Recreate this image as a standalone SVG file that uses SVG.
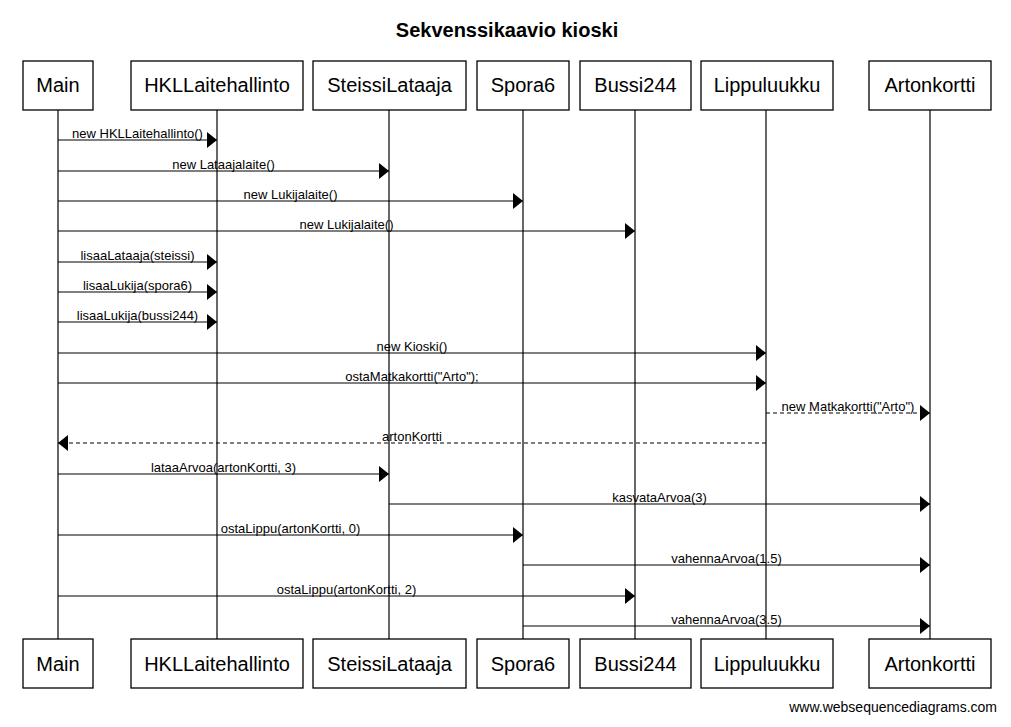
<svg xmlns="http://www.w3.org/2000/svg" width="1011" height="727" viewBox="0 0 1011 727">
<style>
.box{fill:#fff;stroke:#000;stroke-width:1.3}
.life{stroke:#000;stroke-width:1.2}
.name{font-family:"Liberation Sans",Arial,sans-serif;font-size:20px;text-anchor:middle;fill:#000}
.msg{stroke:#000;stroke-width:1.2;fill:none}
.dash{stroke-dasharray:4,3}
.lbl{font-family:"Liberation Sans",Arial,sans-serif;font-size:13px;text-anchor:middle;fill:#000}
.title{font-family:"Liberation Sans",Arial,sans-serif;font-size:20px;font-weight:bold;text-anchor:middle}
.foot{font-family:"Liberation Sans",Arial,sans-serif;font-size:14px;text-anchor:end}
</style>
<defs>
<marker id="ah" markerUnits="userSpaceOnUse" markerWidth="11" markerHeight="17" refX="10" refY="8" orient="auto" viewBox="0 0 11 17">
<path d="M0,0 L10,8 L0,16 Z" fill="#000"/>
</marker>
</defs>
<rect width="1011" height="727" fill="#fff"/>
<text class="title" x="507" y="37">Sekvenssikaavio kioski</text>
<g id="lifelines">
<line class="life" x1="58" y1="110" x2="58" y2="639"/>
<line class="life" x1="217" y1="110" x2="217" y2="639"/>
<line class="life" x1="389" y1="110" x2="389" y2="639"/>
<line class="life" x1="523" y1="110" x2="523" y2="639"/>
<line class="life" x1="635" y1="110" x2="635" y2="639"/>
<line class="life" x1="766" y1="110" x2="766" y2="639"/>
<line class="life" x1="930" y1="110" x2="930" y2="639"/>
</g>
<g id="main"><rect class="box" x="23" y="61" width="70" height="49"/><text class="name" x="58" y="92">Main</text><rect class="box" x="23" y="639" width="70" height="49"/><text class="name" x="58" y="671">Main</text></g>
<g id="hkl"><rect class="box" x="131" y="61" width="172" height="49"/><text class="name" x="217" y="92">HKLLaitehallinto</text><rect class="box" x="131" y="639" width="172" height="49"/><text class="name" x="217" y="671">HKLLaitehallinto</text></g>
<g id="steissi"><rect class="box" x="313" y="61" width="153" height="49"/><text class="name" x="389.5" y="92">SteissiLataaja</text><rect class="box" x="313" y="639" width="153" height="49"/><text class="name" x="389.5" y="671">SteissiLataaja</text></g>
<g id="spora6"><rect class="box" x="477" y="61" width="92" height="49"/><text class="name" x="523" y="92">Spora6</text><rect class="box" x="477" y="639" width="92" height="49"/><text class="name" x="523" y="671">Spora6</text></g>
<g id="bussi244"><rect class="box" x="580" y="61" width="111" height="49"/><text class="name" x="635.5" y="92">Bussi244</text><rect class="box" x="580" y="639" width="111" height="49"/><text class="name" x="635.5" y="671">Bussi244</text></g>
<g id="lippuluukku"><rect class="box" x="701" y="61" width="132" height="49"/><text class="name" x="767" y="92">Lippuluukku</text><rect class="box" x="701" y="639" width="132" height="49"/><text class="name" x="767" y="671">Lippuluukku</text></g>
<g id="artonkortti"><rect class="box" x="869" y="61" width="122" height="49"/><text class="name" x="930" y="92">Artonkortti</text><rect class="box" x="869" y="639" width="122" height="49"/><text class="name" x="930" y="671">Artonkortti</text></g>
<g id="connectors">
<line class="msg" x1="58" y1="140" x2="217" y2="140" marker-end="url(#ah)"/><text class="lbl" x="137.5" y="138">new HKLLaitehallinto()</text>
<line class="msg" x1="58" y1="171" x2="389" y2="171" marker-end="url(#ah)"/><text class="lbl" x="223.5" y="169">new Lataajalaite()</text>
<line class="msg" x1="58" y1="201" x2="523" y2="201" marker-end="url(#ah)"/><text class="lbl" x="290.5" y="199">new Lukijalaite()</text>
<line class="msg" x1="58" y1="231" x2="635" y2="231" marker-end="url(#ah)"/><text class="lbl" x="346.5" y="229">new Lukijalaite()</text>
<line class="msg" x1="58" y1="262" x2="217" y2="262" marker-end="url(#ah)"/><text class="lbl" x="137.5" y="260">lisaaLataaja(steissi)</text>
<line class="msg" x1="58" y1="292" x2="217" y2="292" marker-end="url(#ah)"/><text class="lbl" x="137.5" y="290">lisaaLukija(spora6)</text>
<line class="msg" x1="58" y1="322" x2="217" y2="322" marker-end="url(#ah)"/><text class="lbl" x="137.5" y="320">lisaaLukija(bussi244)</text>
<line class="msg" x1="58" y1="353" x2="766" y2="353" marker-end="url(#ah)"/><text class="lbl" x="412" y="351">new Kioski()</text>
<line class="msg" x1="58" y1="383" x2="766" y2="383" marker-end="url(#ah)"/><text class="lbl" x="412" y="381">ostaMatkakortti("Arto");</text>
<line class="msg dash" x1="766" y1="413" x2="930" y2="413" marker-end="url(#ah)"/><text class="lbl" x="848" y="411">new Matkakortti("Arto")</text>
<line class="msg dash" x1="766" y1="443" x2="58" y2="443" marker-end="url(#ah)"/><text class="lbl" x="412" y="441">artonKortti</text>
<line class="msg" x1="58" y1="474" x2="389" y2="474" marker-end="url(#ah)"/><text class="lbl" x="223.5" y="472">lataaArvoa(artonKortti, 3)</text>
<line class="msg" x1="389" y1="504" x2="930" y2="504" marker-end="url(#ah)"/><text class="lbl" x="659.5" y="502">kasvataArvoa(3)</text>
<line class="msg" x1="58" y1="535" x2="523" y2="535" marker-end="url(#ah)"/><text class="lbl" x="290.5" y="533">ostaLippu(artonKortti, 0)</text>
<line class="msg" x1="523" y1="565" x2="930" y2="565" marker-end="url(#ah)"/><text class="lbl" x="726.5" y="563">vahennaArvoa(1.5)</text>
<line class="msg" x1="58" y1="596" x2="635" y2="596" marker-end="url(#ah)"/><text class="lbl" x="346.5" y="594">ostaLippu(artonKortti, 2)</text>
<line class="msg" x1="523" y1="626" x2="930" y2="626" marker-end="url(#ah)"/><text class="lbl" x="726.5" y="624">vahennaArvoa(3.5)</text>
</g>
<text class="foot" x="997" y="712">www.websequencediagrams.com</text>
</svg>
